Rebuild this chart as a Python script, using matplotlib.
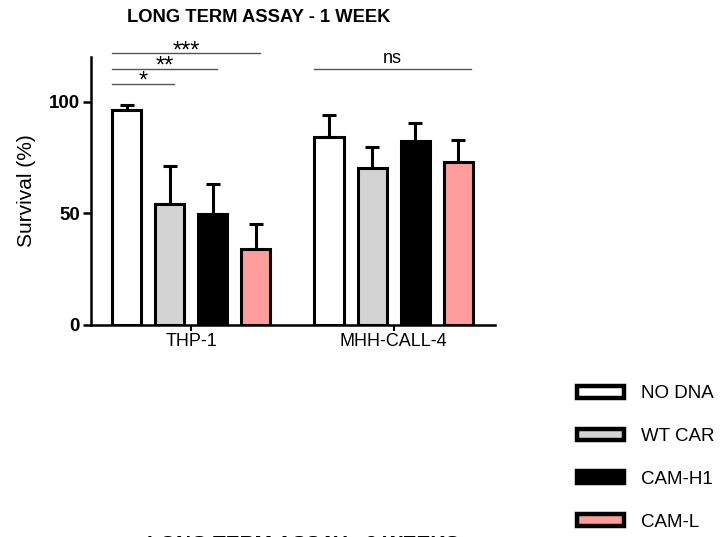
import numpy as np
import matplotlib.pyplot as plt
from matplotlib.patches import Patch

plt.rcParams['font.family'] = ['Liberation Sans', 'DejaVu Sans']

groups = ['THP-1', 'MHH-CALL-4']
conditions = ['NO DNA', 'WT CAR', 'CAM-H1', 'CAM-L']
colors = ['#ffffff', '#d3d3d3', '#000000', '#ff9c9c']
means = [
    [96.4, 54.0, 49.5, 34.0],   # THP-1
    [84.0, 70.5, 82.6, 73.2],   # MHH-CALL-4
]
sem = [
    [2.1, 17.4, 13.5, 11.0],
    [10.0, 9.0, 8.0, 9.8],
]
# significance brackets: (group, from bar, to bar, height, label)
sig = [
    (0, 0, 1, 108, '*'),
    (0, 0, 2, 114.7, '**'),
    (0, 0, 3, 121.7, '***'),
    (1, 0, 3, 114.7, 'ns'),
]

fig = plt.figure(figsize=(7.26, 5.37), dpi=100)
ax = fig.add_axes([0.1253, 0.3948, 0.5565, 0.4991])

width = 0.144
step = 0.213
x = np.arange(len(groups))
offs = (np.arange(len(conditions)) - 1.5) * step
for i, cond in enumerate(conditions):
    vals = [m[i] for m in means]
    errs = [s[i] for s in sem]
    ax.errorbar(x + offs[i], vals, yerr=[np.zeros(len(errs)), errs], fmt='none',
                ecolor='black', elinewidth=2.2, capsize=4.7, capthick=2.2, zorder=1)
    ax.bar(x + offs[i], vals, width, color=colors[i], edgecolor='black',
           linewidth=2.2, label=cond, zorder=2)

for g, a, b, h, lab in sig:
    x0 = x[g] + offs[a] - width / 2
    x1 = x[g] + offs[b] + 0.02 if lab != 'ns' else x[g] + offs[b] + width / 2 - 0.01
    ax.plot([x0, x1], [h, h], color='#555555', lw=1.0, clip_on=False)
    if lab == 'ns':
        ax.text((x0 + x1) / 2, h + 1.0, lab, ha='center', va='bottom', fontsize=13,
                clip_on=False)
    else:
        ax.text((x0 + x1) / 2, h - 4.0, lab, ha='center', va='bottom', fontsize=17,
                clip_on=False)

ax.set_xlim(-0.495, 1.5)
ax.set_ylim(0, 120)
ax.set_yticks([0, 50, 100])
ax.set_yticklabels(['0', '50', '100'], fontweight='bold', fontsize=13.5)
ax.set_xticks(x)
ax.set_xticklabels(groups, fontsize=13)
ax.set_ylabel('Survival (%)', fontsize=15, labelpad=9)
for s in ['top', 'right']:
    ax.spines[s].set_visible(False)
for s in ['left', 'bottom']:
    ax.spines[s].set_linewidth(1.8)
ax.tick_params(axis='y', length=6, width=1.8, pad=2)
ax.tick_params(axis='x', length=4, width=1.5, pad=2)

fig.text(259 / 726, 1 - 18 / 537, 'LONG TERM ASSAY - 1 WEEK', ha='center', va='center',
         fontsize=13.2, fontweight='bold')
fig.text(147 / 726, 2 / 537, 'LONG TERM ASSAY - 2 WEEKS', ha='left', va='top',
         fontsize=15, fontweight='bold')

handles = [Patch(facecolor=c, edgecolor='black', linewidth=3.2, joinstyle='round')
           for c in colors]
fig.legend(handles, conditions, loc='upper left', bbox_to_anchor=(0.772, 0.314),
           frameon=False, fontsize=13.5, handlelength=2.5, handleheight=0.6,
           labelspacing=1.38, handletextpad=0.9)

fig.savefig('out.png', dpi=100)
